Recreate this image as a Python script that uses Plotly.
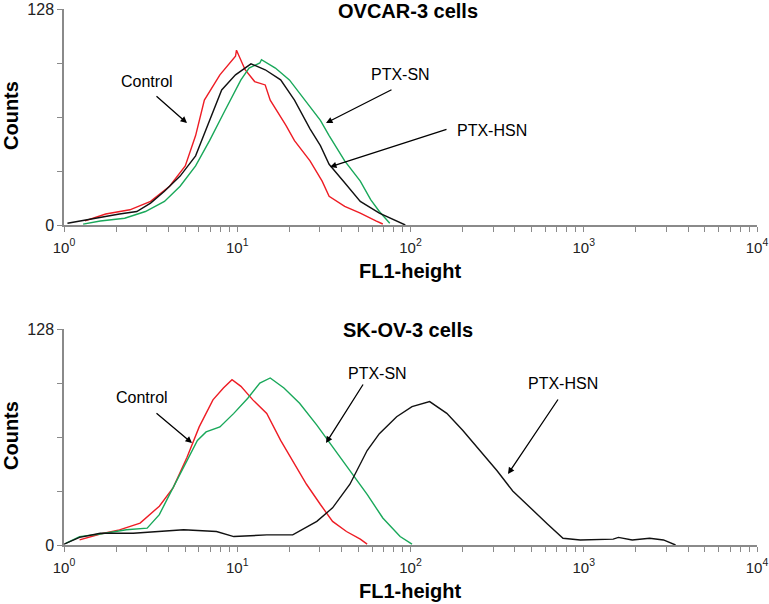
import plotly.graph_objects as go

# ---------------- data (FL1-height, counts) ----------------
ovcar_control_x = [1.32, 1.74, 2.40, 3.16, 4.07, 5.01, 5.75, 6.46, 7.94, 9.77, 9.9, 11.1, 12.6, 14.5, 15.5, 19.1, 21.4, 26.3, 30.9, 33.9, 41.7, 51.3, 63.1, 69.2]
ovcar_control_y = [2.4, 6.5, 9, 14, 23, 35, 53, 74, 89, 100, 103.6, 92, 85, 83, 74, 59, 50, 38, 26, 17, 11, 7, 2.4, 0.6]

ovcar_sn_x = [1.29, 1.62, 2.24, 2.95, 3.80, 4.68, 5.75, 6.92, 8.51, 10.5, 11.7, 13.5, 13.8, 16.6, 20.0, 24.5, 30.2, 33.9, 41.7, 51.3, 58.9, 66.1, 75.9]
ovcar_sn_y = [0.5, 2.4, 4, 8, 14, 23, 35, 50, 68, 86, 93, 96, 98, 93, 86, 74, 62, 53, 38, 26, 15, 8, 1]

ovcar_hsn_x = [1.047, 1.41, 2.09, 2.63, 3.16, 3.80, 4.68, 5.75, 6.92, 8.13, 9.77, 11.7, 12.0, 14.5, 17.8, 21.4, 26.3, 30.2, 33.9, 41.7, 51.3, 66.1, 81.3, 93.3]
ovcar_hsn_y = [1, 3.5, 6.5, 8, 13, 20, 29, 41, 62, 80, 89, 95, 95.5, 92, 86, 74, 57, 47, 36, 25, 14, 7, 3, 0]

skov_control_x = [1.23, 1.62, 2.09, 2.75, 3.55, 4.27, 5.13, 6.03, 7.24, 8.32, 9.33, 10.5, 12.3, 14.8, 17.8, 20.9, 25.1, 30.2, 35.5, 42.7, 51.3, 56.2]
skov_control_y = [3, 6.5, 9, 13, 23, 34, 52, 70, 86, 93, 98, 94, 86, 78, 62, 50, 36, 24, 14, 8, 3.5, 0.5]

skov_sn_x = [1.023, 1.23, 1.62, 2.29, 3.02, 3.55, 4.07, 4.90, 5.89, 6.61, 7.94, 9.55, 11.5, 13.5, 15.5, 18.6, 22.9, 28.8, 35.5, 44.7, 56.2, 69.2, 87.1, 102]
skov_sn_y = [1, 5, 6.5, 9, 10, 18, 30, 46, 62, 67, 70, 78, 87, 96, 99, 93, 84, 71, 58, 44, 30, 16, 5, 0.5]

skov_hsn_x = [1.0, 1.23, 1.62, 2.51, 4.90, 7.59, 9.55, 14.8, 20.9, 28.8, 35.5, 44.7, 56.2, 66.1, 83.2, 102, 129, 162, 200, 251, 316, 389, 490, 617, 759, 955, 1479, 1585, 1905, 2399, 2884, 3388]
skov_hsn_y = [0.5, 4.5, 7, 7, 9, 8, 5, 6, 6, 14, 22, 36, 56, 66, 76, 82, 85, 78, 68, 56, 44, 32, 22, 12.5, 4, 3, 3.5, 4.5, 3, 4, 3, 0]

x_major = [1, 10, 100, 1000, 10000]
x_tick_text = ["10<sup>0</sup>", "10<sup>1</sup>", "10<sup>2</sup>", "10<sup>3</sup>", "10<sup>4</sup>"]
y_ticks = [0, 32, 64, 96, 128]
y_tick_text = ["0", "", "", "", "128"]

RED = "#ee1c24"
GREEN = "#19a85a"
BLACK = "#111111"
AXIS = "#8a8a8a"
FONT = "Liberation Sans, Arial, sans-serif"

x_minor = [m * 10 ** d for d in range(4) for m in range(2, 10)]

fig = go.Figure()

def add(x, y, color, xa, ya):
    fig.add_trace(go.Scatter(x=x, y=y, mode="lines", line=dict(color=color, width=1.4),
                             xaxis=xa, yaxis=ya, showlegend=False, hoverinfo="skip"))

add(ovcar_control_x, ovcar_control_y, RED, "x", "y")
add(ovcar_sn_x, ovcar_sn_y, GREEN, "x", "y")
add(ovcar_hsn_x, ovcar_hsn_y, BLACK, "x", "y")
add(skov_control_x, skov_control_y, RED, "x2", "y2")
add(skov_sn_x, skov_sn_y, GREEN, "x2", "y2")
add(skov_hsn_x, skov_hsn_y, BLACK, "x2", "y2")

# plot-area geometry (pixels)
L, R, T, B = 64, 12, 9, 59
W, H = 769, 604
PW, PH = W - L - R, H - T - B

def X(px):
    return (px - L) / PW

def Y(py):
    return (H - B - py) / PH

xaxis_common = dict(type="log", range=[0, 4], tickvals=x_major, ticktext=x_tick_text,
                    ticks="outside", ticklen=5, tickwidth=1, tickcolor=AXIS, ticklabelstandoff=3,
                    showline=True, linecolor=AXIS, linewidth=1.5, showgrid=False, zeroline=False,
                    tickfont=dict(family=FONT, size=15, color="#222222"),
                    minor=dict(tickvals=x_minor, ticks="outside", ticklen=5, tickwidth=1, tickcolor=AXIS, showgrid=False))
yaxis_common = dict(range=[0, 128], tickvals=y_ticks, ticktext=y_tick_text,
                    ticks="outside", ticklen=5, tickwidth=1, tickcolor=AXIS,
                    showline=True, linecolor=AXIS, linewidth=1.5, showgrid=False, zeroline=False,
                    tickfont=dict(family=FONT, size=16, color="#222222"))

fig.update_layout(
    width=W, height=H,
    margin=dict(l=L, r=R, t=T, b=B, autoexpand=False),
    paper_bgcolor="white", plot_bgcolor="white",
    xaxis=dict(domain=[0, 1], anchor="y", **xaxis_common),
    yaxis=dict(domain=[Y(225), 1], anchor="x", **yaxis_common),
    xaxis2=dict(domain=[0, 1], anchor="y2", **xaxis_common),
    yaxis2=dict(domain=[0, Y(329)], anchor="x2", **yaxis_common),
)

ann = []
def text(px, py, s, size=16, bold=False, angle=0):
    ann.append(dict(x=X(px), y=Y(py), xref="paper", yref="paper", text=f"<b>{s}</b>" if bold else s,
                    showarrow=False, xanchor="center", yanchor="middle", textangle=angle,
                    font=dict(family=FONT, size=size, color="#000000")))

def arrow(tx, ty, hx, hy):
    ann.append(dict(x=X(hx), y=Y(hy), xref="paper", yref="paper", ax=tx - hx, ay=ty - hy,
                    axref="pixel", ayref="pixel", text="", showarrow=True,
                    arrowhead=2, arrowsize=1, arrowwidth=1.3, arrowcolor="#000000"))

# titles and axis titles
text(408, 11, "OVCAR-3 cells", 20, True)
text(408, 330, "SK-OV-3 cells", 20, True)
text(410, 271, "FL1-height", 20, True)
text(410, 591, "FL1-height", 20, True)
text(11, 116, "Counts", 20, True, -90)
text(11, 436, "Counts", 20, True, -90)

# top labels
text(147, 82, "Control")
arrow(155, 95, 187, 123)
text(400, 75, "PTX-SN")
arrow(393, 89, 326, 123)
text(492, 130, "PTX-HSN")
arrow(448, 129, 330, 167)

# bottom labels
text(142, 397, "Control")
arrow(155, 412, 192, 443)
text(377, 373, "PTX-SN")
arrow(364, 383, 326, 443)
text(563, 383, "PTX-HSN")
arrow(559, 398, 508, 474)

fig.update_layout(annotations=ann)
fig.write_html("out.html", config={"displayModeBar": False},
               post_script="document.body.style.margin='0';document.body.style.padding='0';")
